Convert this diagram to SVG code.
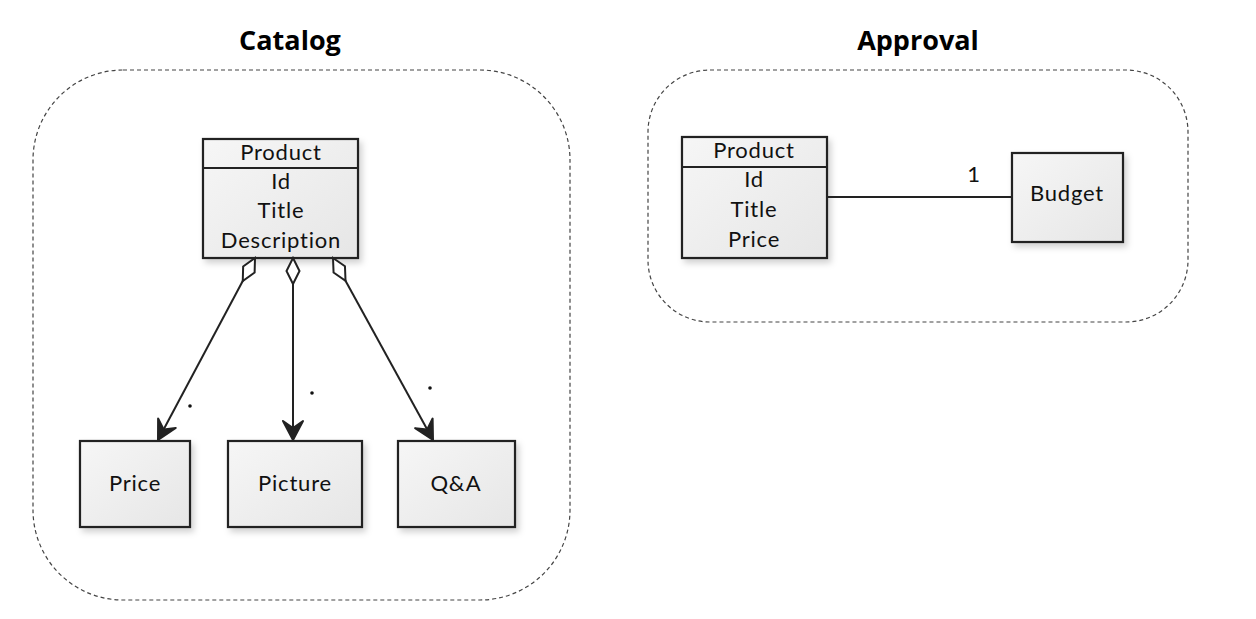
<svg xmlns="http://www.w3.org/2000/svg" width="1256" height="619" viewBox="0 0 1256 619">
<style>
.title{font-family:"Open Sans","Liberation Sans",sans-serif;font-weight:bold;font-size:27px;fill:#000;text-anchor:middle}
.hand{font-family:"Lato","Liberation Sans",sans-serif;font-size:22px;letter-spacing:0.8px;fill:#111;text-anchor:middle}
.box{fill:url(#g);stroke:#222;stroke-width:2.2;filter:url(#sh)}
.div{stroke:#222;stroke-width:2}
.cont{fill:none;stroke:#444;stroke-width:1.2;stroke-dasharray:4 3}
.conn{stroke:#222;stroke-width:2;fill:none}
</style>
<defs>
<linearGradient id="g" x1="0" y1="0" x2="1" y2="1">
<stop offset="0" stop-color="#f6f6f6"/>
<stop offset="1" stop-color="#e6e6e6"/>
</linearGradient>
<filter id="sh" x="-10%" y="-10%" width="130%" height="130%">
<feDropShadow dx="3" dy="4" stdDeviation="3" flood-color="#000" flood-opacity="0.18"/>
</filter>
<marker id="dia" markerUnits="userSpaceOnUse" markerWidth="30" markerHeight="20" viewBox="-2 -9 30 18" refX="0" refY="0" orient="auto">
<path d="M0,0 L13,-6.5 L26,0 L13,6.5 Z" fill="#fff" stroke="#222" stroke-width="2"/>
</marker>
<marker id="arr" markerUnits="userSpaceOnUse" markerWidth="30" markerHeight="30" viewBox="-22 -15 26 30" refX="0" refY="0" orient="auto">
<path d="M-19,-10 L0,0 L-19,10 L-12,0 Z" fill="#222" stroke="#222" stroke-width="2" stroke-linejoin="round"/>
</marker>
</defs>
<rect width="1256" height="619" fill="#fff"/>

<g id="catalog">
<text class="title" x="290" y="50">Catalog</text>
<rect class="cont" x="33" y="70" width="537" height="530" rx="90" ry="90"/>
</g>
<g id="approval">
<text class="title" x="918" y="50">Approval</text>
<rect class="cont" x="648" y="70" width="540" height="252" rx="62" ry="62"/>
</g>

<g id="catalog-product">
<rect class="box" x="203" y="139" width="155" height="119"/>
<line class="div" x1="203" y1="168" x2="358" y2="168"/>
<text class="hand" x="281" y="160">Product</text>
<text class="hand" x="281" y="189">Id</text>
<text class="hand" x="281" y="218">Title</text>
<text class="hand" x="281" y="248">Description</text>
</g>
<g id="price">
<rect class="box" x="80" y="441" width="110" height="86"/>
<text class="hand" x="135" y="491">Price</text>
</g>
<g id="picture">
<rect class="box" x="228" y="441" width="134" height="86"/>
<text class="hand" x="295" y="491">Picture</text>
</g>
<g id="qa">
<rect class="box" x="398" y="441" width="117" height="86"/>
<text class="hand" x="456" y="491">Q&amp;A</text>
</g>

<g id="approval-product">
<rect class="box" x="682" y="137" width="145" height="121"/>
<line class="div" x1="682" y1="167" x2="827" y2="167"/>
<text class="hand" x="754" y="158">Product</text>
<text class="hand" x="754" y="187">Id</text>
<text class="hand" x="754" y="217">Title</text>
<text class="hand" x="754" y="247">Price</text>
</g>
<g id="budget">
<rect class="box" x="1012" y="153" width="111" height="89"/>
<text class="hand" x="1067" y="201">Budget</text>
</g>

<g id="connectors">
<line class="conn" x1="255" y1="258" x2="158" y2="440" marker-start="url(#dia)" marker-end="url(#arr)"/>
<line class="conn" x1="293" y1="258" x2="293" y2="440" marker-start="url(#dia)" marker-end="url(#arr)"/>
<line class="conn" x1="333" y1="258" x2="433" y2="440" marker-start="url(#dia)" marker-end="url(#arr)"/>
<circle cx="190" cy="406" r="1.8" fill="#111"/>
<circle cx="312" cy="393" r="1.8" fill="#111"/>
<circle cx="430" cy="388" r="1.8" fill="#111"/>
<line class="conn" x1="827" y1="197" x2="1012" y2="197"/>
<text class="hand" x="974" y="182">1</text>
</g>
</svg>
